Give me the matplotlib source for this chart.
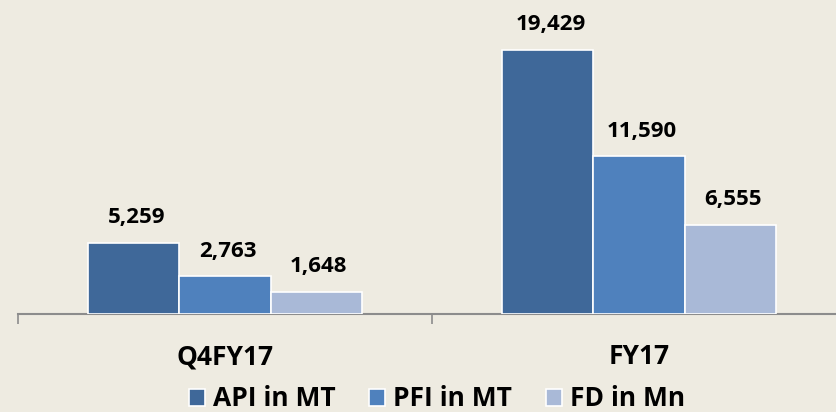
import matplotlib
matplotlib.use("Agg")
import matplotlib.pyplot as plt
import numpy as np

categories = ["Q4FY17", "FY17"]
series_names = ["API in MT", "PFI in MT", "FD in Mn"]
api = [5259, 19429]
pfi = [2763, 11590]
fd = [1648, 6555]
values = [api, pfi, fd]
colors = ["#3F6899", "#4F81BD", "#A9B9D7"]
bg = "#EEEBE1"

plt.rcParams['font.family'] = ['Open Sans', 'DejaVu Sans']
WEIGHT = "bold"

W, H = 837, 412
fig = plt.figure(figsize=(W / 100, H / 100), dpi=100, facecolor=bg)
ax_left = 18 / W
ax_w = 828 / W
ax_bottom = (H - 314) / H
ax_h = 299 / H
ax = fig.add_axes([ax_left, ax_bottom, ax_w, ax_h])
ax.set_facecolor(bg)
ax.set_xlim(-0.5, 1.5)
ax.set_ylim(0, 22000)

x = np.arange(len(categories))
bw = 0.22
handles = []
for i, (vals, c, name) in enumerate(zip(values, colors, series_names)):
    pos = x + (i - 1) * bw
    bars = ax.bar(pos, vals, width=bw, color=c, edgecolor="white", linewidth=1.2, label=name, zorder=3)
    handles.append(bars)
    for p, v in zip(pos, vals):
        ax.annotate(f"{v:,}", (p, v), xytext=(2, 14), textcoords="offset points",
                    ha="center", va="baseline", fontsize=16, fontweight=WEIGHT,
                    color="black", annotation_clip=False)

for s in ["top", "right", "left"]:
    ax.spines[s].set_visible(False)
ax.spines["bottom"].set_color("#8C8C8C")
ax.spines["bottom"].set_linewidth(1.5)
ax.set_yticks([])
ax.set_xticks([-0.5, 0.5, 1.5])
ax.set_xticklabels([])
ax.tick_params(axis="x", which="major", length=7, width=1.2, color="#8C8C8C", direction="out")
ax.set_xticks(x, minor=True)
ax.set_xticklabels(categories, minor=True, fontsize=19, fontweight=WEIGHT)
ax.tick_params(axis="x", which="minor", length=0, pad=21)

leg = fig.legend(handles=handles, labels=series_names, loc="center",
                 bbox_to_anchor=(437 / W, 1 - 399 / H), ncol=3, frameon=False,
                 prop={"size": 19, "weight": WEIGHT}, handlelength=0.6, handleheight=0.6,
                 handletextpad=0.3, columnspacing=1.3, borderaxespad=0, borderpad=0)

fig.savefig("out.png", dpi=100, facecolor=bg)
